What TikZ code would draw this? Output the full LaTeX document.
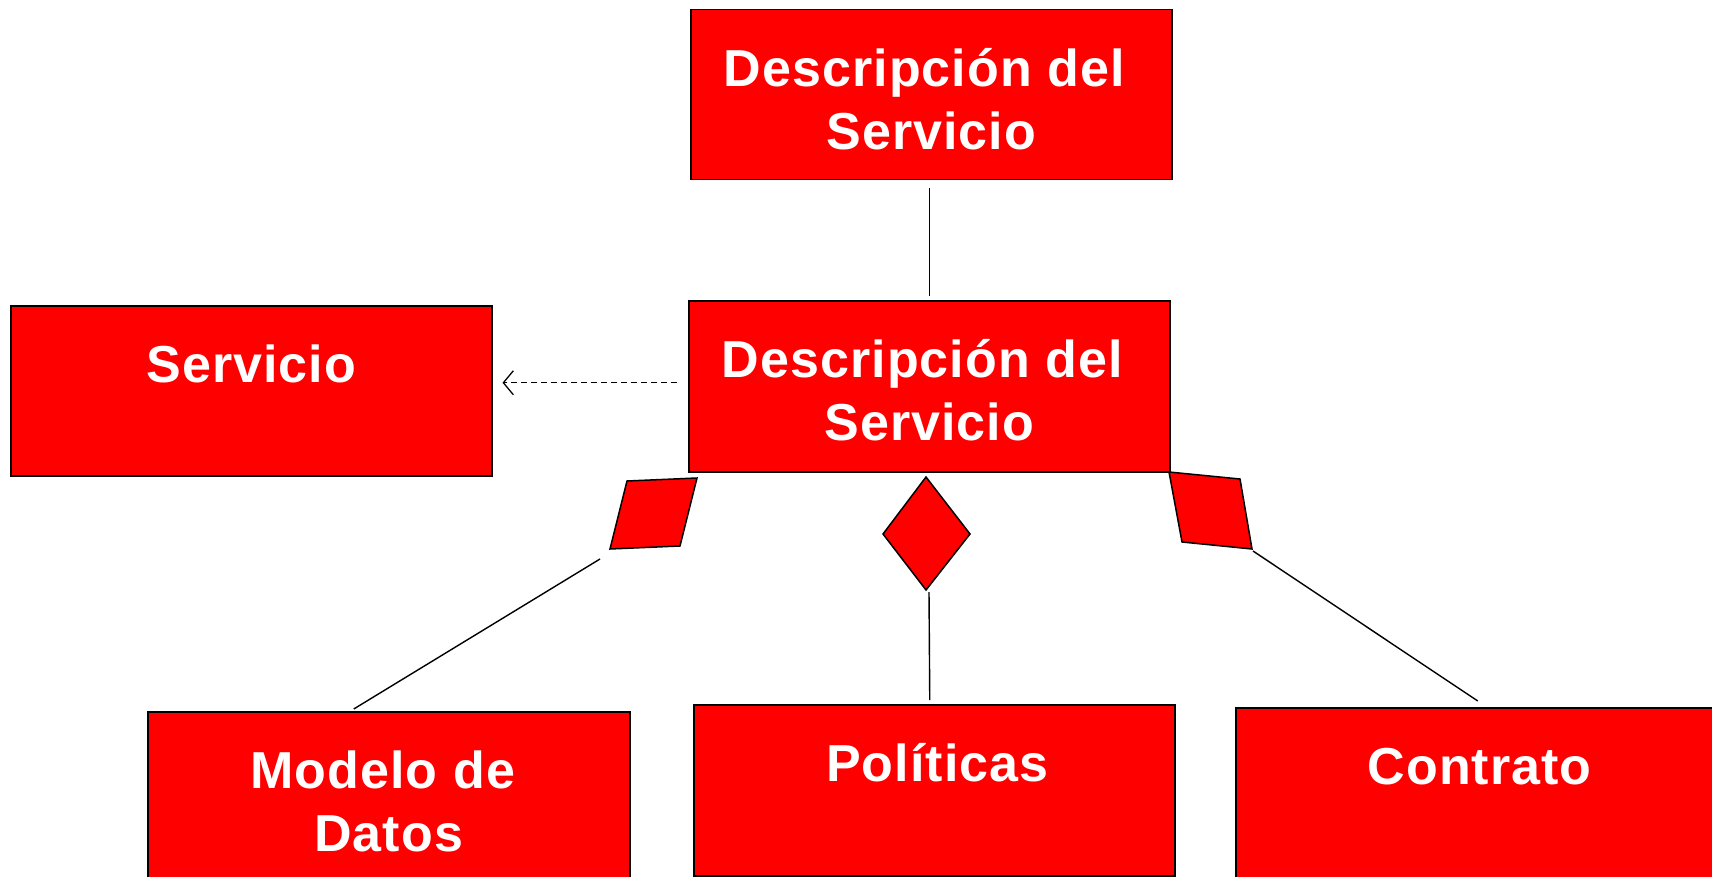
\documentclass[tikz,border=0pt]{standalone}
\usepackage{fontspec}
\setmainfont{Liberation Sans}[LetterSpace=2]
\usetikzlibrary{arrows.meta}
\definecolor{boxred}{RGB}{255,0,0}
\tikzset{
  box/.style={draw=black, line width=1.5pt, fill=boxred, rectangle, inner sep=0pt, anchor=north west},
  lbl/.style={text=white, font=\fontsize{52}{63}\selectfont\bfseries, align=center, anchor=north, inner sep=0pt},
  conn/.style={line width=1.4pt, draw=black},
  dia/.style={draw=black, line width=1.5pt, fill=boxred, line join=miter},
  depend/.style={line width=1.2pt, draw=black, dash pattern=on 6pt off 4pt, -{Straight Barb[length=10pt,width=24pt,line width=1.3pt]}}
}
\begin{document}
\begin{tikzpicture}[x=1pt,y=-1pt]
\useasboundingbox (0,0) rectangle (1712,877);

% boxes
\node[box, minimum width=481pt, minimum height=170pt] (top) at (690,9) {};
\node[box, minimum width=481pt, minimum height=171pt] (mid) at (688,300) {};
\node[box, minimum width=481pt, minimum height=170pt] (serv) at (10,305) {};
\node[box, minimum width=482pt, minimum height=200pt] (mod) at (147,711) {};
\node[box, minimum width=481pt, minimum height=171pt] (pol) at (693,704) {};
\node[box, minimum width=520pt, minimum height=200pt] (con) at (1235,707) {};

% labels
\node[lbl] (topl) at ([yshift=-27pt]top.north) {\rule{0pt}{50pt}Descripción del\hspace*{14pt}\\Servicio};
\node[lbl] (midl) at ([yshift=-27pt]mid.north) {\rule{0pt}{50pt}Descripción del\hspace*{14pt}\\Servicio};
\node[lbl] (servl) at ([yshift=-27pt]serv.north) {\rule{0pt}{50pt}Servicio};
\node[lbl] (modl) at ([yshift=-27pt]mod.north) {\rule{0pt}{50pt}Modelo de\hspace*{12pt}\\Datos};
\node[lbl] (poll) at ([yshift=-27pt,xshift=3pt]pol.north) {\rule{0pt}{50pt}Políticas};
\node[lbl] (conl) at ([yshift=-27pt,xshift=-16pt]con.north) {\rule{0pt}{50pt}Contrato};

% diamonds
\coordinate (ldA) at (627,481); \coordinate (ldB) at (697,478);
\coordinate (ldC) at (680,546); \coordinate (ldD) at (610,549);
\draw[dia] (ldA) -- (ldB) -- (ldC) -- (ldD) -- cycle;

\coordinate (mdA) at (926,477); \coordinate (mdB) at (970,534);
\coordinate (mdC) at (926,590); \coordinate (mdD) at (883,534);
\draw[dia] (mdA) -- (mdB) -- (mdC) -- (mdD) -- cycle;

\coordinate (rdA) at (1169,472); \coordinate (rdB) at (1240,479);
\coordinate (rdC) at (1252,549); \coordinate (rdD) at (1182,542);
\draw[dia] (rdA) -- (rdB) -- (rdC) -- (rdD) -- cycle;

% connectors
\draw[conn] ([xshift=-1.5pt,yshift=-8pt]top.south) -- ([xshift=0.5pt,yshift=4pt]mid.north);
\draw[depend] ([xshift=-11pt,yshift=3.5pt]mid.west) -- ([xshift=10pt,yshift=8pt]serv.east);
\draw[conn] ([xshift=-10pt,yshift=-10pt]ldD) -- ([xshift=-35pt,yshift=2pt]mod.north);
\draw[conn] ([xshift=3pt,yshift=-2pt]mdC) -- ([xshift=-4.5pt,yshift=4pt]pol.north);
\draw[conn] ([xshift=1pt,yshift=-2pt]rdC) -- ([xshift=-18pt,yshift=6pt]con.north);
\end{tikzpicture}
\end{document}
